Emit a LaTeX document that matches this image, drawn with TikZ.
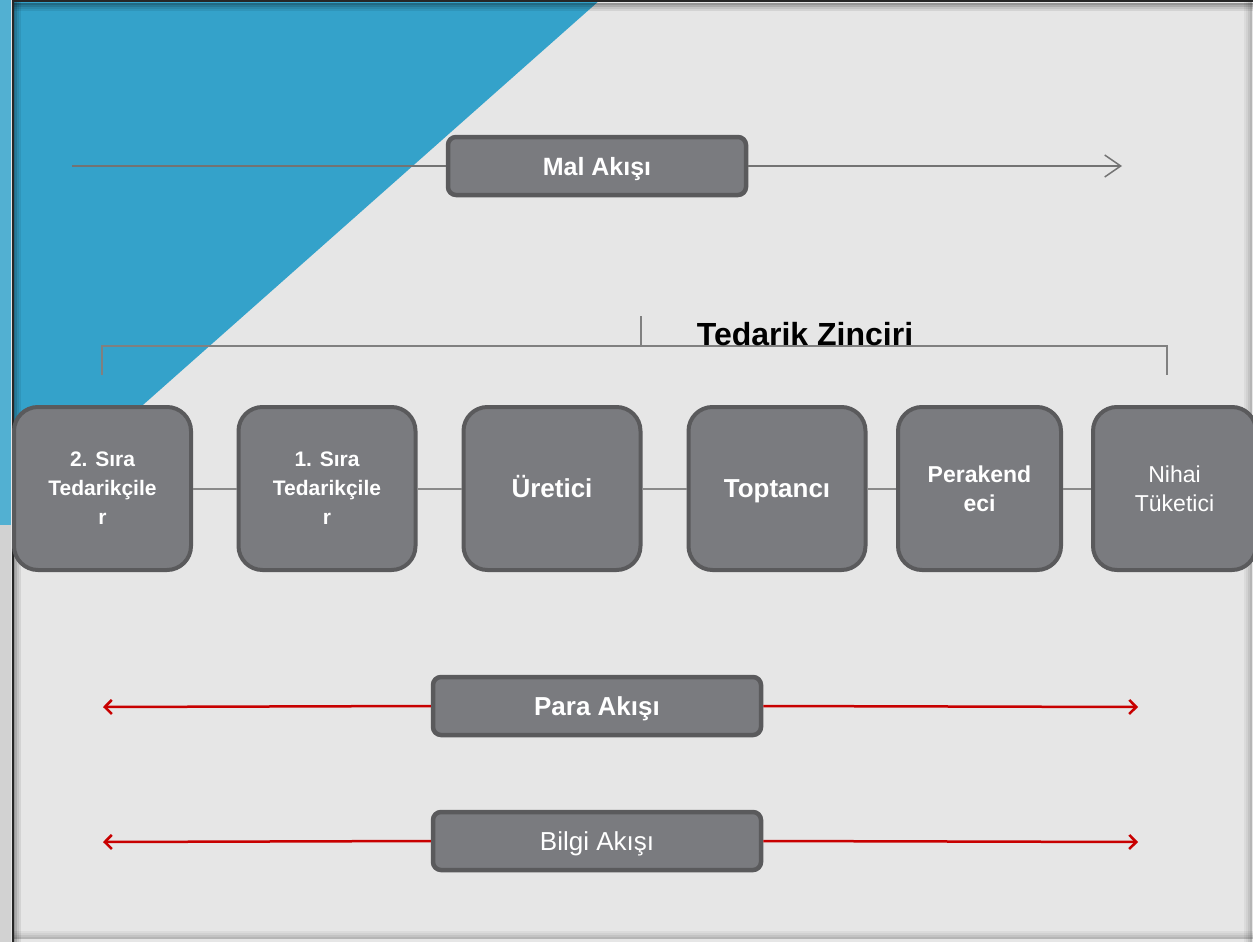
\documentclass[tikz,border=0pt]{standalone}
\usepackage{fontspec}
\setmainfont{Liberation Sans}
\usetikzlibrary{arrows.meta}

\definecolor{slideblue}{HTML}{34A2CA}
\definecolor{slidebg}{HTML}{E6E6E6}
\definecolor{boxfill}{HTML}{7A7B7F}
\definecolor{boxline}{HTML}{5A5A5C}
\definecolor{flowred}{HTML}{C80000}
\definecolor{linkgray}{HTML}{8A8A8A}

\tikzset{
    stage/.style={draw=boxline, fill=boxfill, line width=4pt, rounded corners=24pt,
        minimum width=177pt, minimum height=163pt, inner sep=0pt, text=white,
        align=center, font=\bfseries\fontsize{21}{29}\selectfont},
    flowbox/.style={draw=boxline, fill=boxfill, line width=4.5pt, rounded corners=8pt,
        minimum height=58pt, inner sep=0pt, text=white},
    capline/.style={text height=#1, text depth=0pt},
    link/.style={draw=linkgray, line width=2pt},
    redflow/.style={draw=flowred, line width=2.5pt},
    redtip/.style={-{Straight Barb[length=7pt,width=14pt]}},
}

\begin{document}
\begin{tikzpicture}[x=1pt, y=-1pt]
        \useasboundingbox (0,0) rectangle (1253,942);
        \clip (0,0) rectangle (1253,942);
        % slide background and frame
        \fill[slidebg] (0,0) rectangle (1253,942);
        \fill[gray!35] (0,0) rectangle (11,942);
        \fill[slideblue!85!white] (0,0) rectangle (11,525);
        \fill[slideblue] (12,0) -- (600,0) -- (12,521) -- cycle;
        \foreach \d/\op in {2/0.35, 4/0.25, 6/0.15, 8/0.08} {
            \draw[black, opacity=\op, line width=2pt] (12+\d,0) -- (12+\d,942);
            \draw[black, opacity=\op, line width=2pt] (12,2+\d) -- (1253,2+\d);
            \draw[black, opacity=\op*0.6, line width=2pt] (1253-\d,0) -- (1253-\d,942);
            \draw[black, opacity=\op*0.6, line width=2pt] (12,940-\d) -- (1253,940-\d);
        }
        \draw[black!85, line width=2pt] (12.5,0) -- (12.5,942);
        \draw[black!85, line width=2pt] (12,1) -- (1253,1);

        % goods flow
        \coordinate (malL) at (72,166);
        \coordinate (malR) at (1122,166);
        \node[flowbox, capline=18pt, minimum width=298pt, font=\bfseries\fontsize{25}{30}\selectfont] (mal) at (597,166) {Mal Akışı};
        \draw[draw=black!55, line width=2pt] (malL) -- (mal.west);
        \draw[draw=black!55, line width=2pt, -{Straight Barb[length=16pt,width=22pt,line width=1.5pt]}] (mal.east) -- (malR);

        % bracket over the chain
        \coordinate (brL) at (102,375);
        \coordinate (brR) at (1167,375);
        \coordinate (tick) at (641,316);
        \draw[link, draw=black!50] (brL) -- (102,346) -- (1167,346) -- (brR);
        \draw[link, draw=black!50] (tick) -- (641,346);
        \node[anchor=base, font=\bfseries\fontsize{32}{36}\selectfont] (zincir) at (805,345) {Tedarik Zinciri};

        % chain members
        \node[stage] (s1) at (102.5,488.5) {2. Sıra\\Tedarikçile\\r};
        \node[stage] (s2) at (327,488.5) {1. Sıra\\Tedarikçile\\r};
        \node[stage, capline=18.6pt, font=\bfseries\fontsize{26}{30}\selectfont] (s3) at (552,488.5) {Üretici};
        \node[stage, capline=18.6pt, font=\bfseries\fontsize{26}{30}\selectfont] (s4) at (777,488.5) {Toptancı};
        \node[stage, minimum width=163pt, font=\bfseries\fontsize{23}{29}\selectfont] (s5) at (979.5,488.5) {Perakend\\eci};
        \node[stage, minimum width=163pt, font=\fontsize{23}{29}\selectfont] (s6) at (1174.5,488.5) {Nihai\\Tüketici};
        \foreach \a/\b in {s1/s2, s2/s3, s3/s4, s4/s5, s5/s6} {
            \draw[link] (\a.east) -- (\b.west);
        }

        % money and information flows
        \coordinate (paraL) at (103,707);
        \coordinate (paraR) at (1138,707);
        \coordinate (bilgiL) at (103,842);
        \coordinate (bilgiR) at (1138,842);
        \node[flowbox, capline=18.6pt, minimum width=328pt, font=\bfseries\fontsize{26}{30}\selectfont] (para) at (597,706) {Para Akışı};
        \node[flowbox, capline=18.6pt, minimum width=328pt, font=\fontsize{26}{30}\selectfont] (bilgi) at (597,841) {Bilgi Akışı};
        \draw[redflow, redtip] (para.west) -- (paraL);
        \draw[redflow, redtip] (para.east) -- (paraR);
        \draw[redflow, redtip] (bilgi.west) -- (bilgiL);
        \draw[redflow, redtip] (bilgi.east) -- (bilgiR);
\end{tikzpicture}
\end{document}
